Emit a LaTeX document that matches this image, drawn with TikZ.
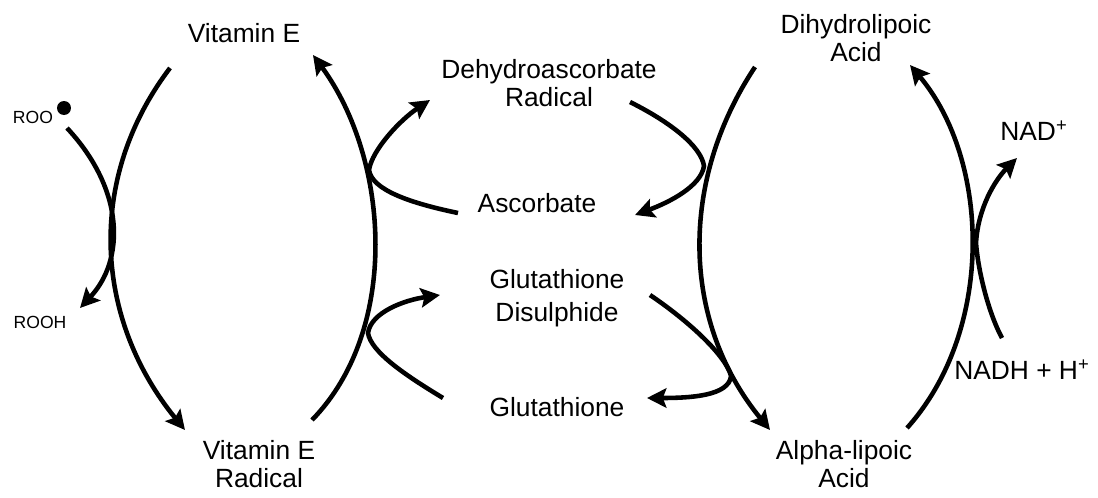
\documentclass[tikz,border=0pt]{standalone}
\usepackage{fontspec}
\setmainfont{Liberation Sans}
\usetikzlibrary{arrows.meta}

\tikzset{
  chem/.style={align=center, inner sep=0pt, font=\fontsize{15}{16}\selectfont},
  minor/.style={inner sep=0pt, font=\fontsize{10}{12}\selectfont},
  flow/.style={line width=2.6pt, -{Stealth[length=11pt, width=11pt, inset=2pt]}},
  tail/.style={line width=2.6pt}
}

\begin{document}
\begin{tikzpicture}[x=0.02cm, y=-0.02cm]
\useasboundingbox (0,0) rectangle (1098,497);

\node[chem] (vitE) at (244,33) {Vitamin E};
\node[chem] (vitErad) at (259,464) {Vitamin E\\Radical};
\node[chem] (dhar) at (549,83) {Dehydroascorbate\\Radical};
\node[chem] (asc) at (537,203) {Ascorbate};
\node[chem] (gssg) at (557,298) {Glutathione\\[3pt]Disulphide};
\node[chem] (gsh) at (557,407) {Glutathione};
\node[chem] (dhla) at (856,38) {Dihydrolipoic\\Acid};
\node[chem] (ala) at (844,464) {Alpha-lipoic\\Acid};
\node[chem] (nad) at (1034,131) {NAD\textsuperscript{+}};
\node[chem] (nadh) at (1022,370) {NADH + H\textsuperscript{+}};
\node[minor] (roo) at (33,117) {ROO};
\node[circle, fill, inner sep=0pt, minimum size=0.28cm] (dot) at (64,108) {};
\node[minor] (rooh) at (40,322) {ROOH};

\coordinate (vitE-out) at (170,68);
\coordinate (vitErad-in) at (185,430);
\coordinate (roo-out) at (67,128);
\coordinate (rooh-in) at (80,308);
\coordinate (vitErad-out) at (312,420);
\coordinate (vitE-in) at (313,55);
\coordinate (asc-out) at (458,213);
\coordinate (asc-mid) at (369,170);
\coordinate (dhar-in) at (430,100);
\coordinate (gsh-out) at (443,398);
\coordinate (gsh-mid) at (368,333);
\coordinate (gssg-in) at (440,295);
\coordinate (dhla-out) at (755,67);
\coordinate (ala-in) at (770,430);
\coordinate (dhar-out) at (630,102);
\coordinate (dhar-mid) at (704,166);
\coordinate (asc-in) at (635,215);
\coordinate (gssg-out) at (650,295);
\coordinate (gssg-mid) at (731,376);
\coordinate (gsh-in) at (647,398);
\coordinate (ala-out) at (907,428);
\coordinate (dhla-in) at (910,65);
\coordinate (nadh-out) at (1002,338);
\coordinate (nadh-mid) at (976,243);
\coordinate (nad-in) at (1017,158);

\draw[flow] (vitE-out) .. controls (85,180) and (95,320) .. (vitErad-in);
\draw[flow] (roo-out) .. controls (125,190) and (125,260) .. (rooh-in);
\draw[flow] (vitErad-out) .. controls (400,330) and (390,160) .. (vitE-in);
\draw[flow] (asc-out) .. controls (410,203) and (372,190) .. (asc-mid)
  .. controls (372,150) and (400,120) .. (dhar-in);
\draw[flow] (gsh-out) .. controls (405,375) and (371,352) .. (gsh-mid)
  .. controls (371,312) and (405,300) .. (gssg-in);
\draw[flow] (dhla-out) .. controls (680,180) and (680,320) .. (ala-in);
\draw[flow] (dhar-out) .. controls (670,122) and (701,146) .. (dhar-mid)
  .. controls (701,186) and (670,202) .. (asc-in);
\draw[flow] (gssg-out) .. controls (690,322) and (726,356) .. (gssg-mid)
  .. controls (729,396) and (690,398) .. (gsh-in);
\draw[flow] (ala-out) .. controls (995,330) and (990,160) .. (dhla-in);
\draw[flow] (nadh-out) .. controls (988,312) and (978,270) .. (nadh-mid)
  .. controls (978,208) and (995,180) .. (nad-in);

\end{tikzpicture}
\end{document}
